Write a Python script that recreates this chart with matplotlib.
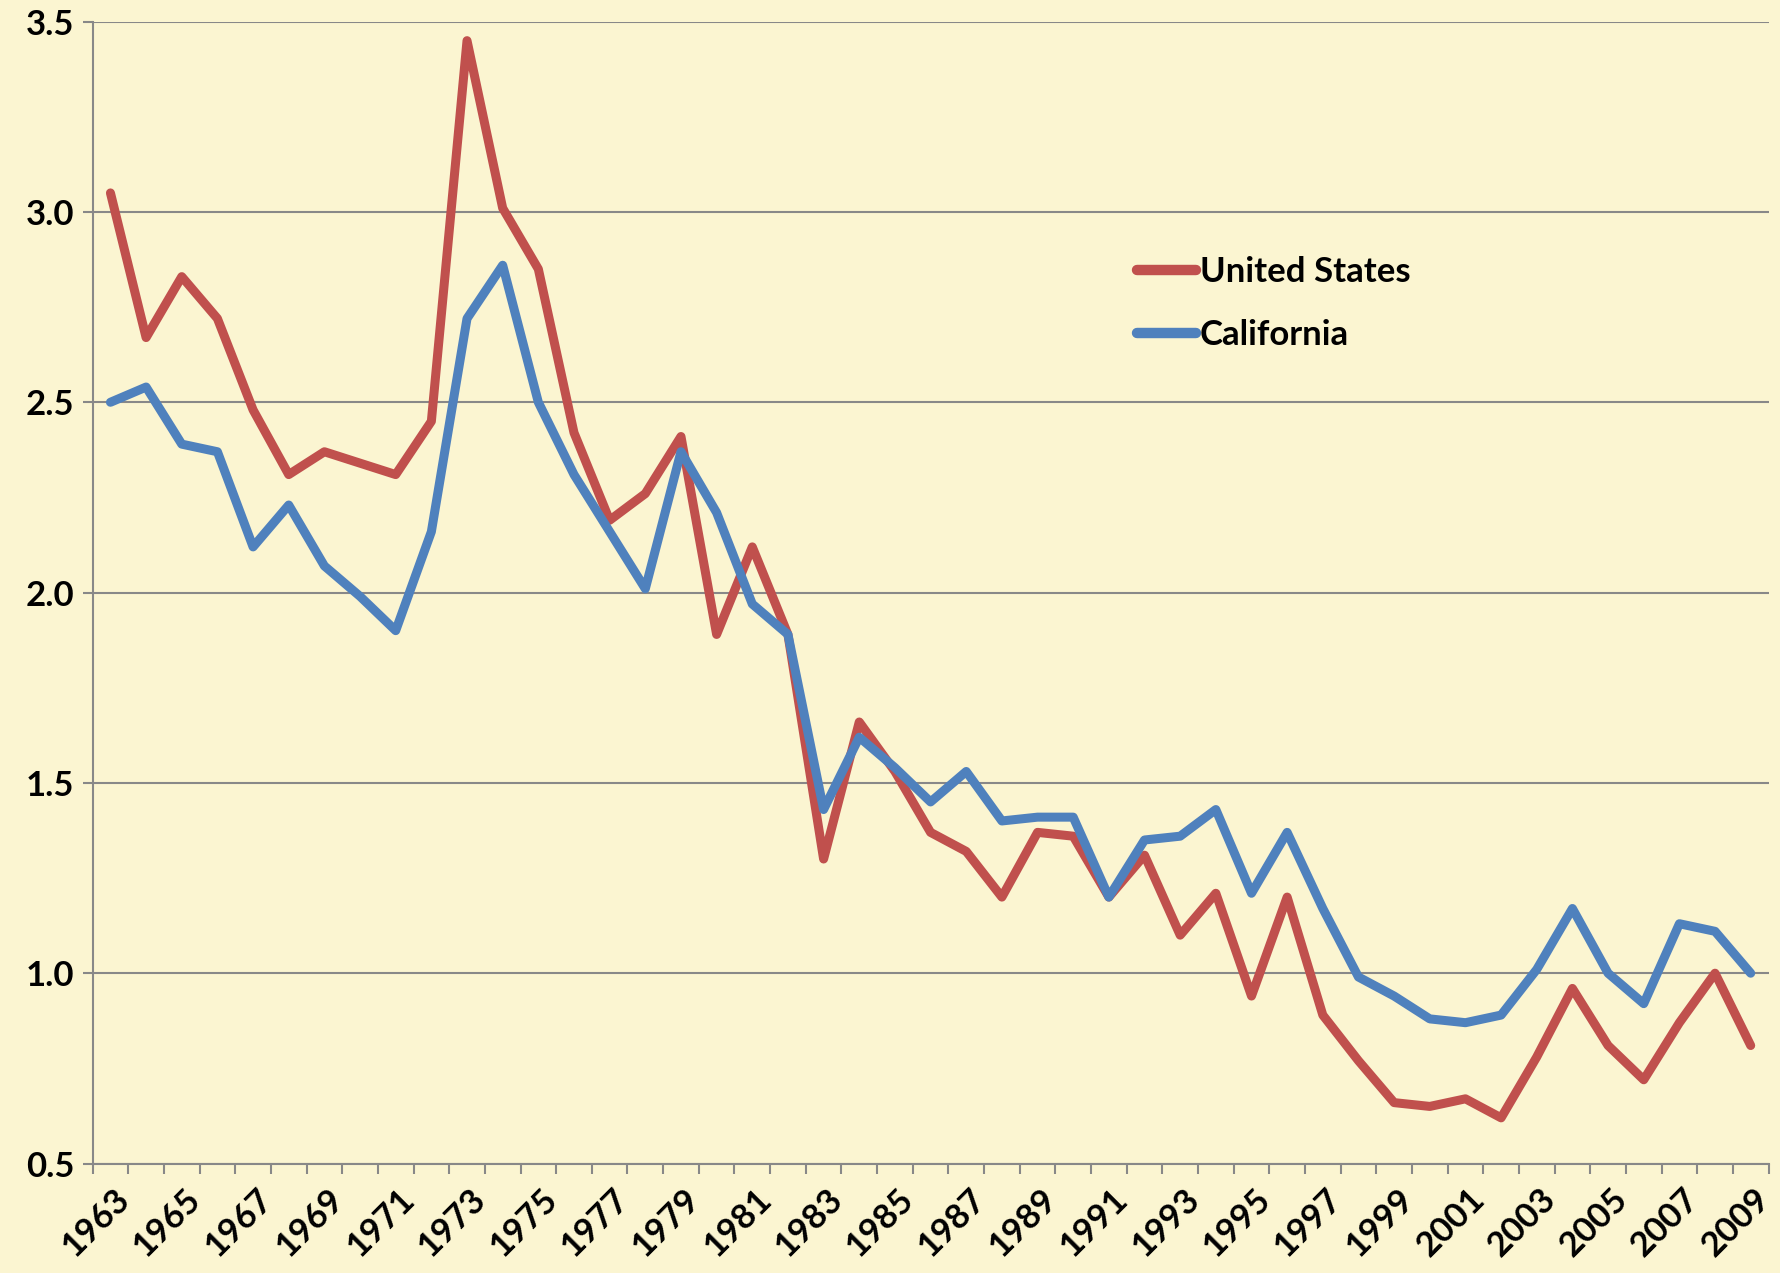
import matplotlib.pyplot as plt
import matplotlib.transforms as mtransforms
import numpy as np

years = list(range(1963, 2010))

united_states = [3.05, 2.67, 2.83, 2.72, 2.48, 2.31, 2.37, 2.34, 2.31, 2.45,
                 3.45, 3.01, 2.85, 2.42, 2.19, 2.26, 2.41, 1.89, 2.12, 1.89,
                 1.30, 1.66, 1.53, 1.37, 1.32, 1.20, 1.37, 1.36, 1.20, 1.31,
                 1.10, 1.21, 0.94, 1.20, 0.89, 0.77, 0.66, 0.65, 0.67, 0.62,
                 0.78, 0.96, 0.81, 0.72, 0.87, 1.00, 0.81]

california = [2.50, 2.54, 2.39, 2.37, 2.12, 2.23, 2.07, 1.99, 1.90, 2.16,
              2.72, 2.86, 2.50, 2.31, 2.16, 2.01, 2.37, 2.21, 1.97, 1.89,
              1.43, 1.62, 1.54, 1.45, 1.53, 1.40, 1.41, 1.41, 1.20, 1.35,
              1.36, 1.43, 1.21, 1.37, 1.17, 0.99, 0.94, 0.88, 0.87, 0.89,
              1.01, 1.17, 1.00, 0.92, 1.13, 1.11, 1.00]

y_ticks = [0.5, 1.0, 1.5, 2.0, 2.5, 3.0, 3.5]

bg = '#FBF5D1'
grid_col = '#888888'
red = '#C0504D'
blue = '#4F81BD'
fs = 25

plt.rcParams['font.family'] = ['Lato', 'DejaVu Sans']
plt.rcParams['font.weight'] = 'bold'

fig = plt.figure(figsize=(17.81, 12.73), dpi=100, facecolor=bg)
ax = fig.add_axes([0.052, 0.086, 0.941, 0.897])
ax.set_facecolor(bg)

x = np.arange(len(years))
ax.plot(x, united_states, color=red, lw=6.5, solid_capstyle='round',
        solid_joinstyle='round', label='United States', zorder=3)
ax.plot(x, california, color=blue, lw=6.5, solid_capstyle='round',
        solid_joinstyle='round', label='California', zorder=4)

ax.set_xlim(-0.5, len(years) - 0.5)
ax.set_ylim(0.5, 3.5)

# y axis
ax.set_yticks(y_ticks)
ax.set_yticklabels(['%.1f' % v for v in y_ticks], fontsize=fs, fontweight='bold')
ax.yaxis.grid(True, color=grid_col, lw=1.5)
ax.tick_params(axis='y', length=7, width=1.5, color=grid_col, pad=6)

# x axis: ticks between categories, labels every other year
ax.set_xticks(x[::2])
ax.set_xticklabels([str(y) for y in years[::2]], rotation=45, ha='right',
                   va='center', rotation_mode='anchor', fontsize=fs,
                   fontweight='bold')
ax.set_xticks(np.arange(-0.5, len(years), 1), minor=True)
ax.tick_params(axis='x', which='major', length=0, pad=22)
ax.tick_params(axis='x', which='minor', length=7, width=1.5, color=grid_col)
shift = mtransforms.ScaledTranslation(0.14, 0, fig.dpi_scale_trans)
for lab in ax.get_xticklabels():
    lab.set_transform(lab.get_transform() + shift)

for s in ['top', 'right']:
    ax.spines[s].set_visible(False)
for s in ['left', 'bottom']:
    ax.spines[s].set_color(grid_col)
    ax.spines[s].set_linewidth(1.5)

leg = ax.legend(loc='upper left', bbox_to_anchor=(0.613, 0.81), frameon=False,
                fontsize=fs, handlelength=1.7, handletextpad=0.1,
                labelspacing=0.9, borderpad=0)
for t in leg.get_texts():
    t.set_fontweight('bold')
for h in leg.get_lines():
    h.set_linewidth(7.5)

fig.savefig('out.png', dpi=100, facecolor=bg)
